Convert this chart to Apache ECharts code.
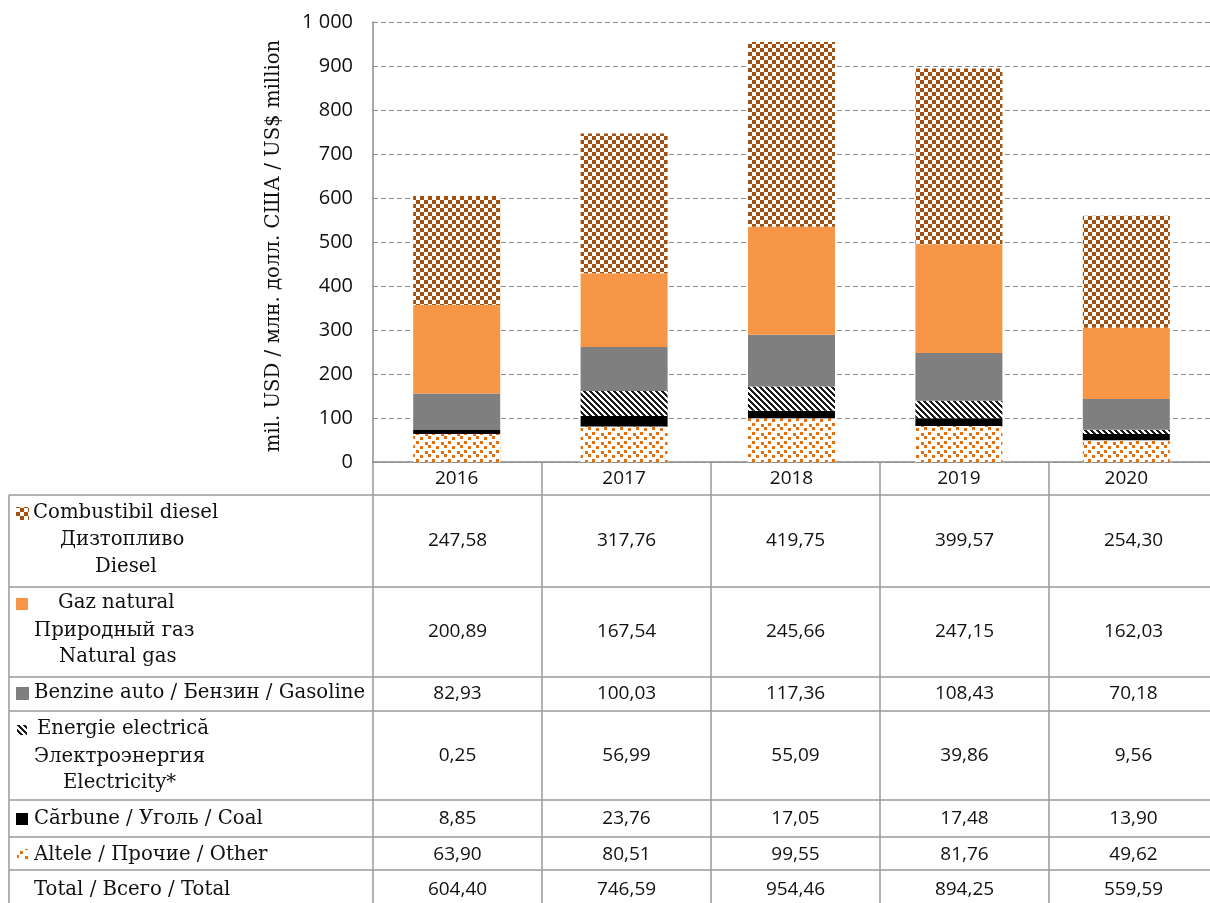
<!DOCTYPE html>
<html>
<head>
<meta charset="utf-8">
<script src="https://cdn.jsdelivr.net/npm/echarts@6/dist/echarts.min.js"></script>
<style>
  html, body { margin: 0; padding: 0; background: #fff; }
  #chart { width: 1210px; height: 903px; }
</style>
</head>
<body>
<div id="chart"></div>
<script>
// data
const years = ["2016", "2017", "2018", "2019", "2020"];
const diesel = [247.58, 317.76, 419.75, 399.57, 254.30];
const naturalGas = [200.89, 167.54, 245.66, 247.15, 162.03];
const gasoline = [82.93, 100.03, 117.36, 108.43, 70.18];
const electricity = [0.25, 56.99, 55.09, 39.86, 9.56];
const coal = [8.85, 23.76, 17.05, 17.48, 13.90];
const other = [63.90, 80.51, 99.55, 81.76, 49.62];
const totals = [604.40, 746.59, 954.46, 894.25, 559.59];
const yMin = 0;
const yMax = 1000;
const yStep = 100;
const yAxisTitle = "mil. USD / млн. долл. США / US$ million";

const rowLabels = [
  ["Combustibil diesel", "Дизтопливо", "Diesel"],
  ["Gaz natural", "Природный газ", "Natural gas"],
  ["Benzine auto / Бензин / Gasoline"],
  ["Energie electrică", "Электроэнергия", "Electricity*"],
  ["Cărbune / Уголь / Coal"],
  ["Altele / Прочие / Other"],
  ["Total / Всего / Total"]
];
const rowValues = [diesel, naturalGas, gasoline, electricity, coal, other, totals];

// layout
const gridLeft = 373, gridTop = 22, gridW = 845, gridH = 440;
const band = gridW / years.length;
const axisY = gridTop + gridH;
const serif = "'DejaVu Serif', serif";
const sans = "'Open Sans', 'Noto Sans', sans-serif";
const lineColor = "#9a9a9a";

function pattern(w, h, bg, fg, paint) {
  const c = document.createElement("canvas");
  c.width = w;
  c.height = h;
  const ctx = c.getContext("2d");
  ctx.fillStyle = bg;
  ctx.fillRect(0, 0, w, h);
  ctx.fillStyle = fg;
  paint(ctx);
  return { image: c, repeat: "repeat" };
}

const checker = pattern(8, 8, "#fff", "#a34f0e", (ctx) => {
  ctx.fillRect(0, 0, 4, 4);
  ctx.fillRect(4, 4, 4, 4);
});
const stripes = pattern(6, 6, "#fff", "#1c1c1c", (ctx) => {
  for (let y = 0; y < 6; y++) {
    for (let x = 0; x < 6; x++) {
      if ((((x - y) % 6) + 6) % 6 < 3) ctx.fillRect(x, y, 1, 1);
    }
  }
});
const confetti = pattern(16, 9, "#fff", "#e8700c", (ctx) => {
  ctx.fillRect(0, 0, 3, 3);
  ctx.fillRect(9, 1, 3, 3);
  ctx.fillRect(4, 5, 3, 3);
  ctx.fillRect(12, 4, 3, 3);
});

const fills = [checker, "#f79646", "#7f7f7f", stripes, "#000000", confetti];

function fmt(v) {
  return v.toFixed(2).replace(".", ",");
}

// table graphics
const graphic = [];
const hLines = [495, 587, 677, 711, 800, 837, 870];
hLines.forEach((y) => {
  graphic.push({ type: "line", shape: { x1: 9, y1: y, x2: 1210, y2: y }, style: { stroke: lineColor, lineWidth: 1.5 }, silent: true });
});
graphic.push({ type: "line", shape: { x1: 9, y1: 495, x2: 9, y2: 903 }, style: { stroke: lineColor, lineWidth: 1.5 } });
for (let i = 0; i < years.length; i++) {
  const x = gridLeft + band * i;
  graphic.push({ type: "line", shape: { x1: x, y1: axisY, x2: x, y2: 903 }, style: { stroke: lineColor, lineWidth: 1.5 } });
}

// label lines: [x, y] per line
const labelPos = [
  [[33, 513], [60, 540], [95, 567]],
  [[58, 603], [34, 631], [59, 657]],
  [[34, 693]],
  [[37, 729], [34, 757], [63, 783]],
  [[34, 819]],
  [[34, 855]],
  [[34, 890]]
];
const rowCenter = [541, 632, 694, 756, 819, 855, 890];
const iconBox = [
  [16, 507, 13, 13],
  [16, 598, 12, 12],
  [16, 687, 13, 13],
  [17, 725, 10, 10],
  [16, 813, 12, 12],
  [17, 849, 11, 11]
];

rowLabels.forEach((lines, r) => {
  lines.forEach((t, k) => {
    graphic.push({
      type: "text",
      x: labelPos[r][k][0],
      y: labelPos[r][k][1],
      style: { text: t, font: "19.7px " + serif, fill: "#111", textVerticalAlign: "middle" }
    });
  });
  if (r < iconBox.length) {
    const b = iconBox[r];
    graphic.push({ type: "rect", shape: { x: b[0], y: b[1], width: b[2], height: b[3] }, style: { fill: fills[r] } });
  }
  rowValues[r].forEach((v, i) => {
    graphic.push({
      type: "text",
      x: gridLeft + band * (i + 0.5),
      y: rowCenter[r],
      style: { text: fmt(v), font: "19px " + sans, fill: "#111", textAlign: "center", textVerticalAlign: "middle" }
    });
  });
});

graphic.push({
  type: "text",
  x: 274,
  y: 246,
  rotation: Math.PI / 2,
  style: { text: yAxisTitle, font: "19.7px " + serif, fill: "#111", textAlign: "center", textVerticalAlign: "middle" }
});

const stackOrder = [
  ["Altele", other, confetti],
  ["Cărbune", coal, "#000000"],
  ["Energie electrică", electricity, stripes],
  ["Benzine auto", gasoline, "#7f7f7f"],
  ["Gaz natural", naturalGas, "#f79646"],
  ["Combustibil diesel", diesel, checker]
];

const chart = echarts.init(document.getElementById("chart"), null, { renderer: "canvas" });
chart.setOption({
  animation: false,
  backgroundColor: "#fff",
  grid: { left: gridLeft, top: gridTop, width: gridW, height: gridH },
  xAxis: {
    type: "category",
    data: years,
    axisLine: { lineStyle: { color: "#8c8c8c", width: 1.5 } },
    axisTick: { show: false },
    axisLabel: { color: "#111", fontFamily: sans, fontSize: 19, margin: 7 }
  },
  yAxis: {
    type: "value",
    min: yMin,
    max: yMax,
    interval: yStep,
    axisLine: { show: true, lineStyle: { color: "#8c8c8c", width: 1.5 } },
    axisTick: { show: false },
    axisLabel: {
      color: "#111",
      fontFamily: sans,
      fontSize: 20,
      margin: 20,
      formatter: (v) => String(v).replace(/\B(?=(\d{3})+(?!\d))/g, " ")
    },
    splitLine: { lineStyle: { color: "#8c8c8c", type: [5, 3], width: 1 } }
  },
  series: stackOrder.map(([name, data, fill]) => ({
    name,
    type: "bar",
    stack: "total",
    barWidth: 87,
    data,
    itemStyle: { color: fill }
  })),
  graphic
});
</script>
</body>
</html>
